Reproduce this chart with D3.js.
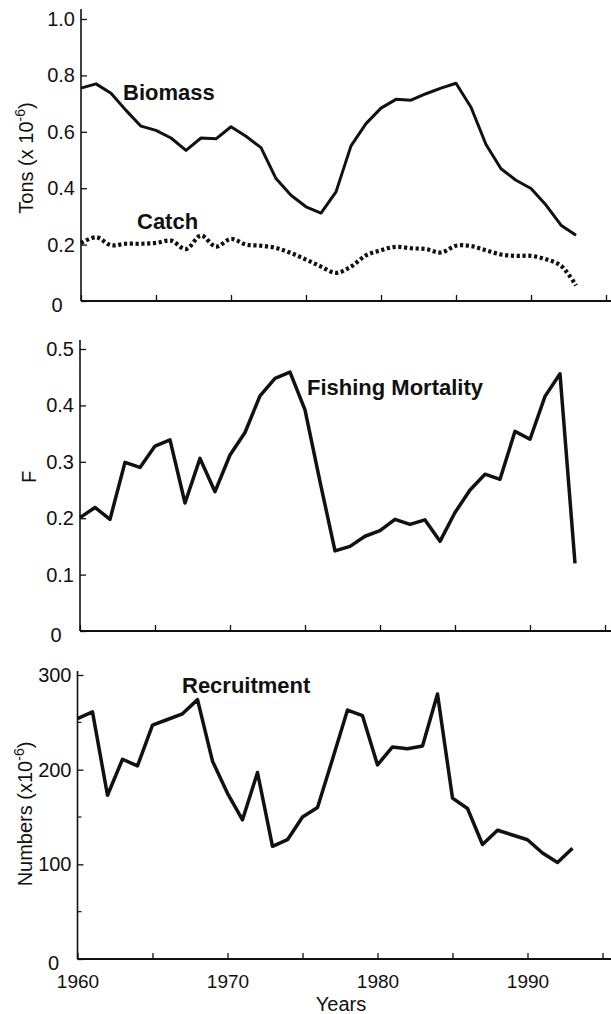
<!DOCTYPE html>
<html>
<head>
<meta charset="utf-8">
<script src="https://cdn.jsdelivr.net/npm/d3@7"></script>
<style>
  body { margin: 0; background: #fff; }
  text { font-family: "Liberation Sans", Arial, Helvetica, sans-serif; fill: #111; }
</style>
</head>
<body>
<div id="holder"></div>
<script>
// data, one value per year 1960-1993
const years = [1960, 1961, 1962, 1963, 1964, 1965, 1966, 1967, 1968, 1969,
               1970, 1971, 1972, 1973, 1974, 1975, 1976, 1977, 1978, 1979,
               1980, 1981, 1982, 1983, 1984, 1985, 1986, 1987, 1988, 1989,
               1990, 1991, 1992, 1993];
const biomass = [0.755, 0.77, 0.737, 0.676, 0.62, 0.605, 0.578, 0.534, 0.578, 0.575,
                 0.618, 0.584, 0.544, 0.434, 0.375, 0.334, 0.312, 0.387, 0.55, 0.629,
                 0.684, 0.715, 0.712, 0.735, 0.755, 0.772, 0.687, 0.555, 0.469, 0.428,
                 0.399, 0.34, 0.269, 0.233];
const catchTons = [0.205, 0.226, 0.198, 0.203, 0.203, 0.206, 0.214, 0.184, 0.232, 0.193,
                   0.22, 0.2, 0.196, 0.188, 0.17, 0.147, 0.122, 0.1, 0.122, 0.162,
                   0.18, 0.192, 0.187, 0.184, 0.172, 0.196, 0.195, 0.18, 0.165, 0.16,
                   0.16, 0.148, 0.125, 0.055];
const fishingMortality = [0.201, 0.219, 0.198, 0.299, 0.29, 0.328, 0.339, 0.227, 0.306, 0.247,
                          0.312, 0.352, 0.417, 0.448, 0.459, 0.392, 0.265, 0.142, 0.15, 0.168,
                          0.178, 0.198, 0.189, 0.197, 0.159, 0.21, 0.25, 0.278, 0.269, 0.354,
                          0.34, 0.416, 0.456, 0.12];
const recruitment = [254, 261, 173, 211, 204, 247, 253, 259, 274, 209,
                     175, 147, 197, 119, 126, 150, 160, 211, 263, 257,
                     205, 224, 222, 225, 280, 170, 159, 121, 136, 131,
                     126, 112, 102, 117];

const xTicks = [1960, 1965, 1970, 1975, 1980, 1985, 1990, 1995];
const xTickLabels = [1960, 1970, 1980, 1990];
const tonsTicks = [0, 0.2, 0.4, 0.6, 0.8, 1.0];
const fTicks = [0, 0.1, 0.2, 0.3, 0.4, 0.5];
const numberTicks = [0, 100, 200, 300];
const numberMinorTicks = [50, 150, 250];

const width = 611;
const height = 1014;

const svg = d3.select("#holder")
    .append("svg")
    .attr("width", width)
    .attr("height", height);

svg.append("rect").attr("width", width).attr("height", height).attr("fill", "#fff");

function drawPanel(p) {
    const x = d3.scaleLinear().domain([1960, 1995]).range([p.left, p.left + 525]);
    const y = d3.scaleLinear().domain(p.domain).range([p.bottom, p.top]);
    const g = svg.append("g");

    // axis lines
    g.append("line")
        .attr("x1", p.left).attr("x2", p.left)
        .attr("y1", p.bottom).attr("y2", p.top - p.over)
        .attr("stroke", "#111").attr("stroke-width", 1.6);
    g.append("line")
        .attr("x1", p.left).attr("x2", width)
        .attr("y1", p.bottom).attr("y2", p.bottom)
        .attr("stroke", "#111").attr("stroke-width", 1.8);

    const yAxis = d3.axisLeft(y)
        .tickValues(p.ticks)
        .tickSizeInner(-6)
        .tickSizeOuter(0)
        .tickPadding(6)
        .tickFormat(p.fmt);
    const ya = g.append("g")
        .attr("transform", `translate(${p.left},0)`)
        .call(yAxis);
    ya.select(".domain").remove();
    ya.selectAll(".tick line").attr("stroke", "#111").attr("stroke-width", 1.3);
    ya.selectAll(".tick text")
        .attr("fill", "#111")
        .style("font-size", "20px")
        .style("font-family", null);
    ya.selectAll(".tick")
        .filter(d => d === 0)
        .select("text")
        .attr("x", -24)
        .attr("dy", "0.5em")
        .attr("text-anchor", "middle");

    if (p.minor) {
        g.selectAll(".minor")
            .data(p.minor)
            .enter()
            .append("line")
            .attr("x1", p.left).attr("x2", p.left + 4)
            .attr("y1", d => y(d)).attr("y2", d => y(d))
            .attr("stroke", "#111").attr("stroke-width", 1.2);
    }

    const xAxis = d3.axisBottom(x)
        .tickValues(xTicks)
        .tickSizeInner(-6)
        .tickSizeOuter(0)
        .tickPadding(16)
        .tickFormat(d => (p.labels && xTickLabels.includes(d)) ? d : "");
    const xa = g.append("g")
        .attr("transform", `translate(0,${p.bottom})`)
        .call(xAxis);
    xa.select(".domain").remove();
    xa.selectAll(".tick line").attr("stroke", "#111").attr("stroke-width", 1.3);
    xa.selectAll(".tick text")
        .attr("fill", "#111")
        .style("font-size", "19px")
        .style("font-family", null);

    p.series.forEach(s => {
        const line = d3.line()
            .x((d, i) => x(years[i]))
            .y(d => y(d))
            .curve(s.curve || d3.curveLinear);
        g.append("path")
            .datum(s.values)
            .attr("d", line)
            .attr("fill", "none")
            .attr("stroke", "#111")
            .attr("stroke-width", s.width)
            .attr("stroke-linejoin", "round")
            .attr("stroke-dasharray", s.dash || null);
    });

    p.notes.forEach(n => {
        g.append("text")
            .attr("x", n.x)
            .attr("y", n.y)
            .style("font-size", "22px")
            .style("font-weight", "bold")
            .text(n.text);
    });

    const t = g.append("text")
        .attr("transform", `translate(${p.titleX},${p.titleY}) rotate(-90)`)
        .attr("text-anchor", "middle")
        .style("font-size", "20px");
    t.append("tspan").text(p.title[0]);
    if (p.title.length > 1) {
        t.append("tspan").attr("dy", -8).style("font-size", "14px").text(p.title[1]);
        t.append("tspan").attr("dy", 8).text(p.title[2]);
    }
}

drawPanel({
    left: 81, top: 19, bottom: 301, over: 10, domain: [0, 1],
    ticks: tonsTicks, fmt: d => d === 0 ? "0" : d3.format(".1f")(d),
    series: [
        { values: biomass, width: 3 },
        { values: catchTons, width: 4.2, dash: "3.2,2.6", curve: d3.curveCatmullRom }
    ],
    notes: [{ text: "Biomass", x: 123, y: 100 }, { text: "Catch", x: 137, y: 229 }],
    title: ["Tons (x 10", "-6", ")"], titleX: 33, titleY: 158
});

drawPanel({
    left: 80, top: 349, bottom: 631, over: 9, domain: [0, 0.5],
    ticks: fTicks, fmt: d => d === 0 ? "0" : d3.format(".1f")(d),
    series: [{ values: fishingMortality, width: 3.5 }],
    notes: [{ text: "Fishing Mortality", x: 307, y: 395 }],
    title: ["F"], titleX: 36, titleY: 477
});

drawPanel({
    left: 77.5, top: 675, bottom: 959, over: 4, domain: [0, 300],
    ticks: numberTicks, minor: numberMinorTicks, fmt: d => d,
    labels: true,
    series: [{ values: recruitment, width: 3.5 }],
    notes: [{ text: "Recruitment", x: 182, y: 693 }],
    title: ["Numbers (x10", "-6", ")"], titleX: 32, titleY: 814
});

svg.append("text")
    .attr("x", 341)
    .attr("y", 1011)
    .attr("text-anchor", "middle")
    .style("font-size", "20px")
    .text("Years");
</script>
</body>
</html>
